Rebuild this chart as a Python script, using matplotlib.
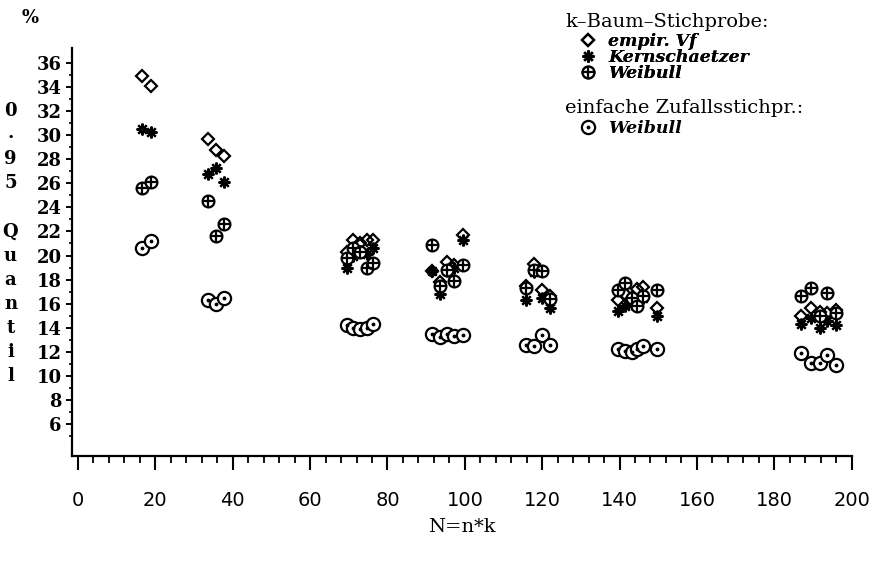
import matplotlib.pyplot as plt
from matplotlib.lines import Line2D
from matplotlib.transforms import blended_transform_factory
import numpy as np

# N = n*k positions (shared by all four series)
N = [16.5, 18.8,
     33.6, 35.8, 37.8,
     69.5, 71.2, 73.0, 74.6, 76.3,
     91.5, 93.5, 95.5, 97.3, 99.5,
     115.8, 118.0, 120.0, 122.0,
     139.6, 141.3, 143.1, 144.5, 146.0, 149.8,
     187.0, 189.5, 191.7, 193.5, 196.0]

# k-Baum-Stichprobe
empir_vf = [34.9, 34.1,
            29.7, 28.8, 28.3,
            20.3, 21.3, 21.0, 21.3, 21.3,
            18.7, 17.8, 19.5, 19.2, 21.7,
            17.5, 19.3, 17.1, 16.6,
            16.3, 16.8, 16.5, 17.2, 17.4, 15.6,
            15.0, 15.6, 15.3, 15.2, 15.5]
kernschaetzer = [30.5, 30.3,
                 26.8, 27.3, 26.1,
                 19.0, 20.0, 20.4, 20.1, 20.6,
                 18.7, 16.8, 18.7, 19.0, 21.3,
                 16.3, 18.6, 16.5, 15.6,
                 15.4, 15.8, 16.0, 16.3, 16.5, 15.0,
                 14.3, 14.8, 14.0, 14.6, 14.2]
weibull_k = [25.6, 26.1,
             24.5, 21.6, 22.6,
             19.8, 20.6, 20.3, 18.95, 19.4,
             20.9, 17.5, 18.8, 17.9, 19.2,
             17.3, 18.8, 18.7, 16.4,
             17.1, 17.7, 16.5, 15.8, 16.6, 17.1,
             16.6, 17.3, 15.0, 16.9, 15.2]
# einfache Zufallsstichprobe
weibull_z = [20.6, 21.2,
             16.3, 16.0, 16.5,
             14.2, 14.0, 13.9, 14.0, 14.3,
             13.5, 13.2, 13.5, 13.3, 13.4,
             12.6, 12.5, 13.4, 12.6,
             12.2, 12.1, 12.0, 12.2, 12.5, 12.2,
             11.9, 11.1, 11.1, 11.7, 10.9]

ylabel_chars = ['0', '.', '9', '5', 'Q', 'u', 'a', 'n', 't', 'i', 'l']
ylabel_pos = [32, 30.2, 28, 26, 22, 20, 18, 16, 14, 12, 10]

fig = plt.figure(figsize=(8.76, 5.66), dpi=100)
ax = fig.add_axes([0.0822, 0.1943, 0.890, 0.721])

ms_c = 8.5
mw = 1.6
kw = dict(linestyle='none', color='k')
ax.plot(N, empir_vf, marker='D', ms=6.2, mfc='none', mew=mw, **kw)
ax.plot(N, kernschaetzer, marker=(8, 2, 0), ms=8.5, mew=1.6, **kw)
ax.plot(N, weibull_k, marker='o', ms=ms_c, mfc='white', mew=mw, **kw)
ax.plot(N, weibull_k, marker='+', ms=ms_c, mew=mw, **kw)
ax.plot(N, weibull_z, marker='o', ms=ms_c + 1, mfc='white', mew=mw, **kw)
ax.plot(N, weibull_z, marker='.', ms=3.5, **kw)

ax.set_xlim(-1.55, 200)
ax.set_ylim(3.34, 37.25)
ax.set_xticks(np.arange(0, 201, 20))
ax.set_xticks(np.arange(0, 201, 4), minor=True)
ax.set_yticks(np.arange(6, 37, 2))
ax.set_yticks(np.arange(5, 37, 1), minor=True)

for s in ['top', 'right']:
    ax.spines[s].set_visible(False)
for s in ['left', 'bottom']:
    ax.spines[s].set_linewidth(1.6)

ax.tick_params(axis='x', which='major', direction='out', length=10, width=1.5, pad=15, labelsize=14)
ax.tick_params(axis='x', which='minor', direction='out', length=5, width=1.3)
ax.tick_params(axis='y', which='major', direction='out', length=4.5, width=1.4, pad=3)
ax.tick_params(axis='y', which='minor', direction='out', length=2.5, width=1.2)
for lab in ax.get_xticklabels():
    lab.set_fontfamily('DejaVu Sans')
for lab in ax.get_yticklabels():
    lab.set_fontfamily('DejaVu Serif')
    lab.set_fontweight('bold')
    lab.set_fontsize(13)

ax.set_xlabel('N=n*k', fontsize=14, fontfamily='DejaVu Serif', labelpad=6)

fig.text(0.034, 0.968, '%', fontsize=13, fontfamily='DejaVu Serif', fontweight='bold', ha='center', va='center')

trans = blended_transform_factory(fig.transFigure, ax.transData)
for ch, yy in zip(ylabel_chars, ylabel_pos):
    ax.text(0.012, yy, ch, transform=trans, fontsize=13, fontfamily='DejaVu Serif',
            fontweight='bold', ha='center', va='center', clip_on=False)

# legend
fig.text(0.645, 0.962, 'k\u2013Baum\u2013Stichprobe:', fontsize=14, fontfamily='DejaVu Serif', va='center')
fig.text(0.645, 0.81, 'einfache Zufallsstichpr.:', fontsize=14, fontfamily='DejaVu Serif', va='center')

h_d = Line2D([], [], marker='D', ms=6.2, mfc='none', mew=mw, **kw)
h_s = Line2D([], [], marker=(8, 2, 0), ms=8.5, mew=1.6, **kw)
h_w = (Line2D([], [], marker='o', ms=ms_c, mfc='white', mew=mw, **kw),
       Line2D([], [], marker='+', ms=ms_c, mew=mw, **kw))
h_z = (Line2D([], [], marker='o', ms=ms_c + 1, mfc='white', mew=mw, **kw),
       Line2D([], [], marker='.', ms=3.5, **kw))

lfont = dict(family='DejaVu Serif', style='italic', weight='bold', size=12.5)
leg1 = fig.legend([h_d, h_s, h_w], ['empir. Vf', 'Kernschaetzer', 'Weibull'],
                  loc='upper left', bbox_to_anchor=(0.647, 0.963), frameon=False,
                  prop=lfont, handlelength=1.1, handletextpad=0.6, labelspacing=-0.05,
                  borderpad=0.2)
fig.add_artist(leg1)
leg2 = fig.legend([h_z], ['Weibull'],
                  loc='upper left', bbox_to_anchor=(0.647, 0.81), frameon=False,
                  prop=lfont, handlelength=1.1, handletextpad=0.6, borderpad=0.2)

fig.savefig('out.png', dpi=100)
